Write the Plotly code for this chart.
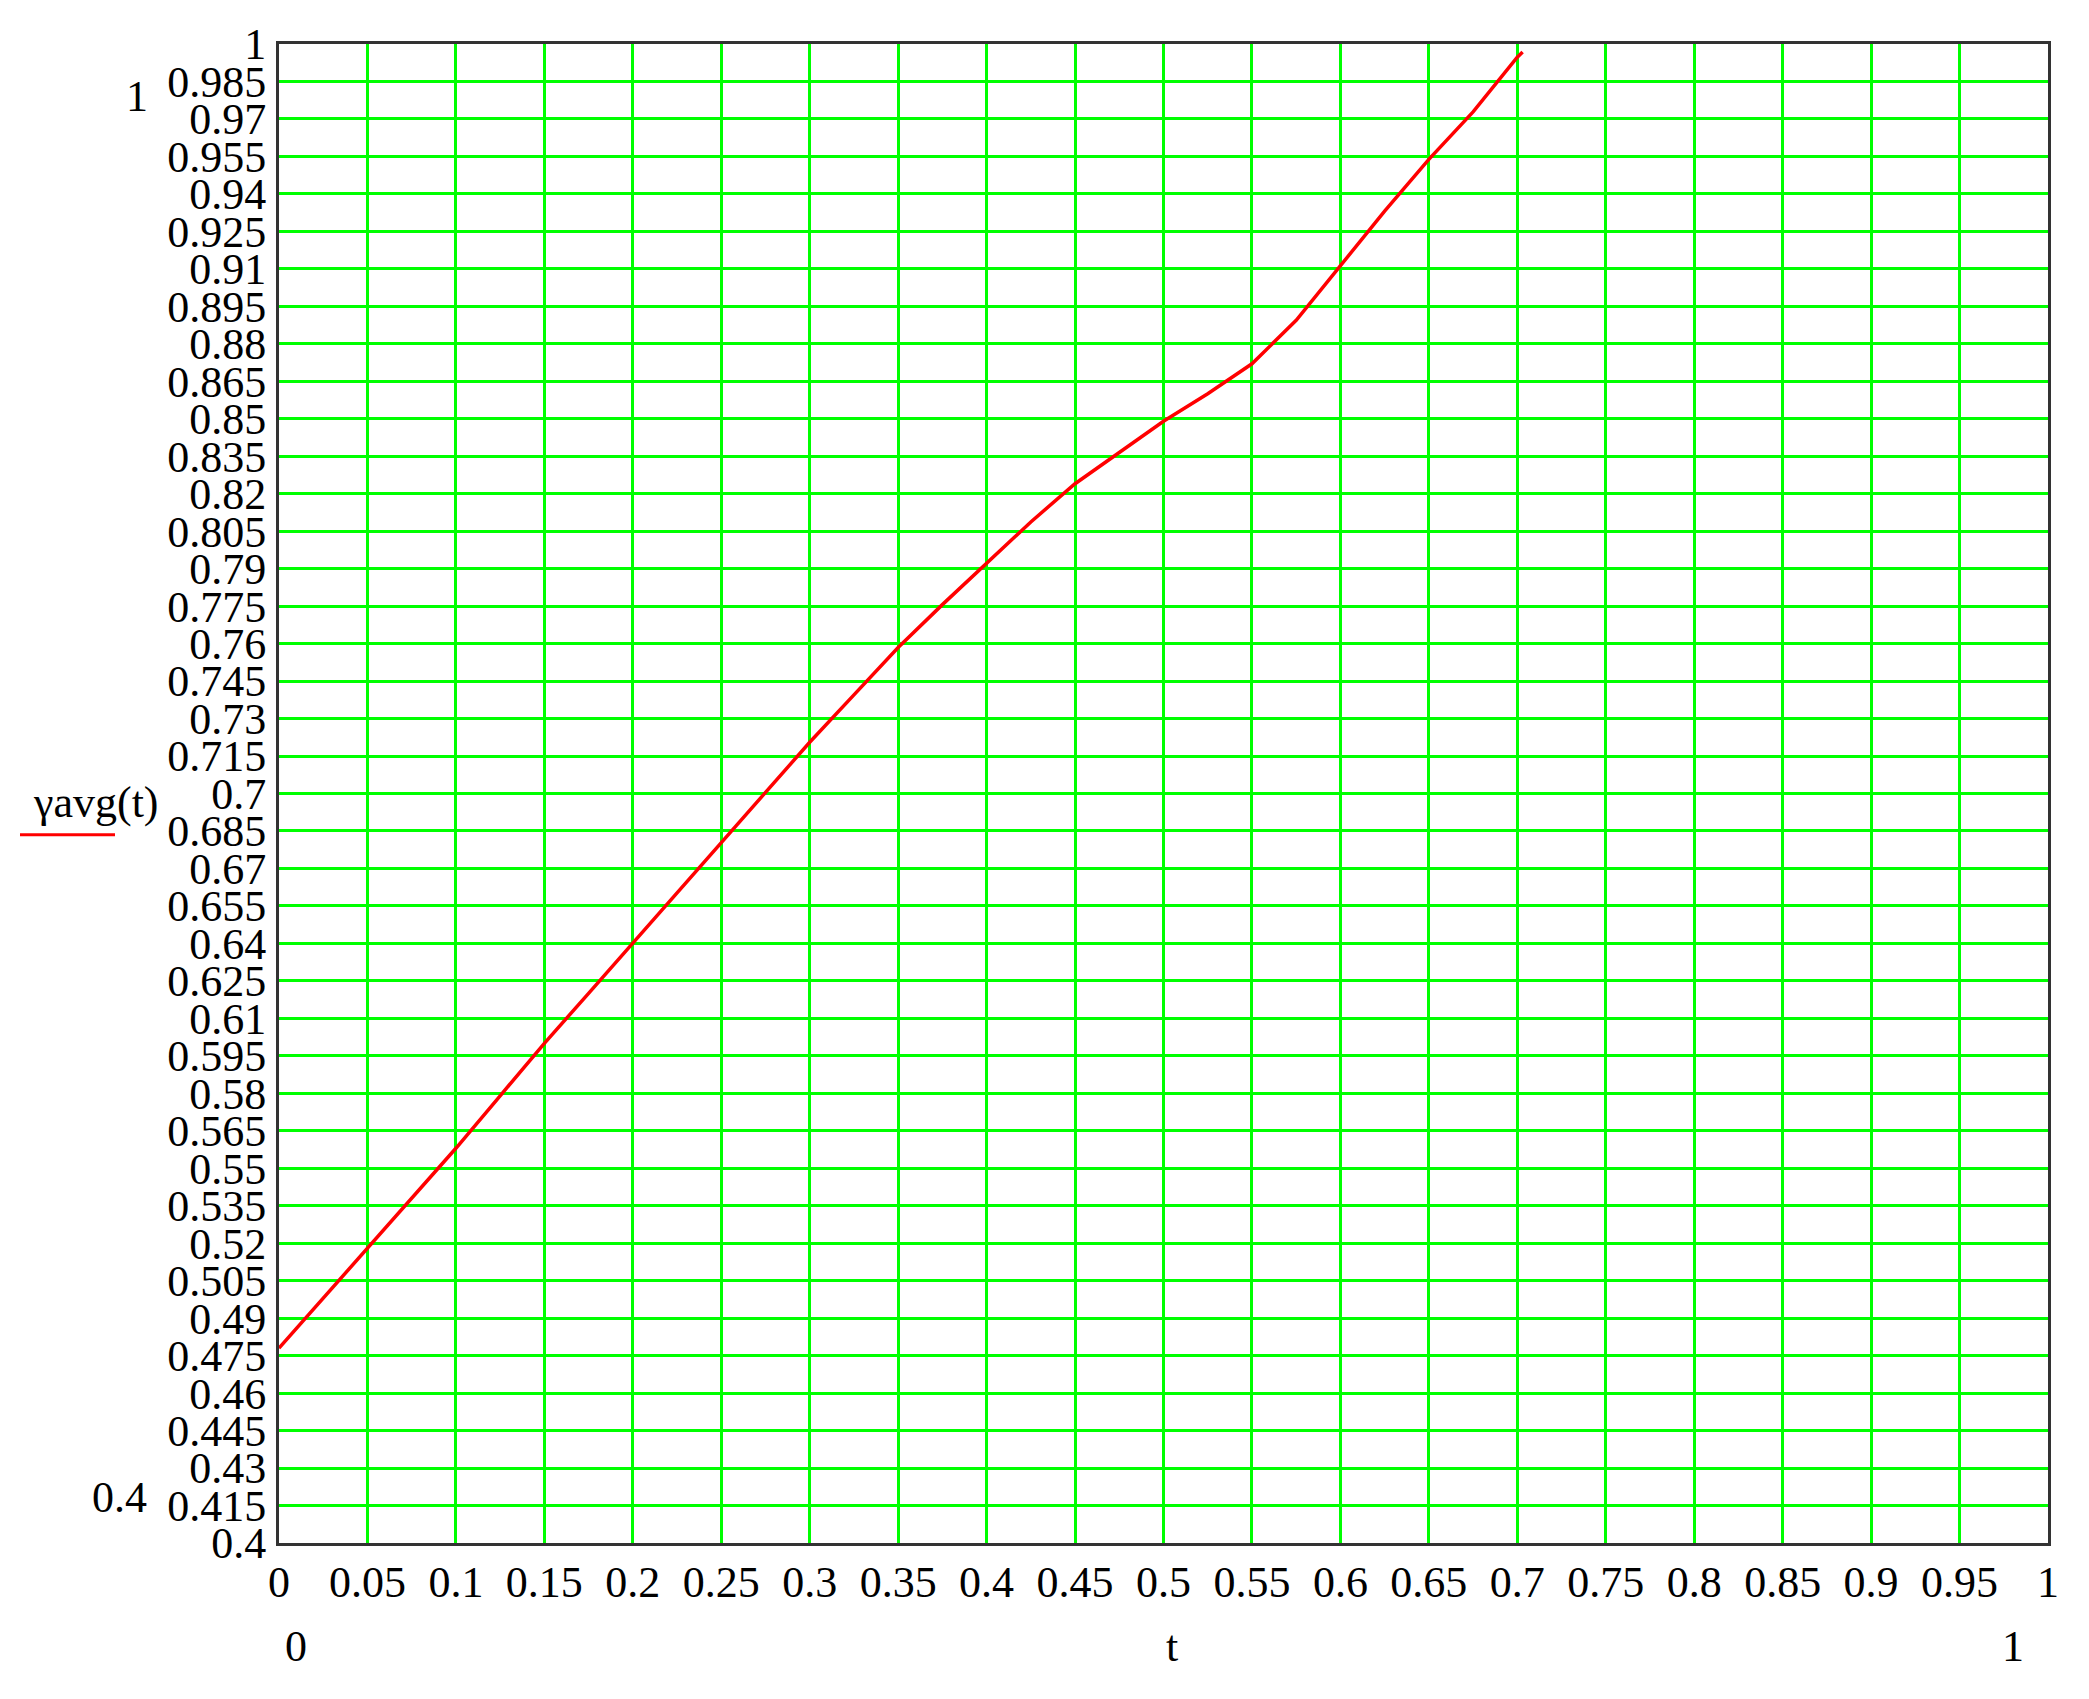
import plotly.graph_objects as go

# ---- data ----
t_values = [0, 0.025, 0.05, 0.075, 0.1, 0.125, 0.15, 0.175, 0.2, 0.225, 0.25,
            0.275, 0.3, 0.325, 0.35, 0.375, 0.4, 0.425, 0.45, 0.475, 0.5,
            0.525, 0.55, 0.575, 0.6, 0.625, 0.65, 0.675, 0.7, 0.703]
gamma_avg = [0.478, 0.498, 0.518, 0.538, 0.558, 0.579, 0.600, 0.620, 0.640, 0.660, 0.680,
             0.700, 0.7205, 0.7395, 0.7584, 0.7756, 0.7922, 0.8087, 0.824, 0.8366, 0.849,
             0.860, 0.872, 0.8894, 0.9111, 0.9331, 0.9538, 0.9728, 0.9947, 0.9968]

x_ticks = [0, 0.05, 0.1, 0.15, 0.2, 0.25, 0.3, 0.35, 0.4, 0.45, 0.5,
           0.55, 0.6, 0.65, 0.7, 0.75, 0.8, 0.85, 0.9, 0.95, 1]
x_tick_labels = ["0", "0.05", "0.1", "0.15", "0.2", "0.25", "0.3", "0.35", "0.4", "0.45", "0.5",
                 "0.55", "0.6", "0.65", "0.7", "0.75", "0.8", "0.85", "0.9", "0.95", "1"]
y_ticks = [0.4, 0.415, 0.43, 0.445, 0.46, 0.475, 0.49, 0.505, 0.52, 0.535, 0.55,
           0.565, 0.58, 0.595, 0.61, 0.625, 0.64, 0.655, 0.67, 0.685, 0.7,
           0.715, 0.73, 0.745, 0.76, 0.775, 0.79, 0.805, 0.82, 0.835, 0.85,
           0.865, 0.88, 0.895, 0.91, 0.925, 0.94, 0.955, 0.97, 0.985, 1]
y_tick_labels = ["0.4", "0.415", "0.43", "0.445", "0.46", "0.475", "0.49", "0.505", "0.52", "0.535", "0.55",
                 "0.565", "0.58", "0.595", "0.61", "0.625", "0.64", "0.655", "0.67", "0.685", "0.7",
                 "0.715", "0.73", "0.745", "0.76", "0.775", "0.79", "0.805", "0.82", "0.835", "0.85",
                 "0.865", "0.88", "0.895", "0.91", "0.925", "0.94", "0.955", "0.97", "0.985", "1"]

x_range = [0, 1]
y_range = [0.4, 1]
y_label = "γavg(t)"
x_label = "t"
x_limit_labels = ["0", "1"]
y_limit_labels = ["0.4", "1"]

# ---- layout geometry (page pixels; the page body adds an 8px offset) ----
OFF = 8
PW, PH = 2089, 1699
W, H = PW - 2 * OFF, PH - 2 * OFF
L, R, T, B = 279, 2048, 32, 1543          # plot area in page pixels
FONT = "Liberation Serif"
FS = 44


def px_x(p):
    return (p - L) / (R - L)


def px_y(p):
    return (B - p) / (B - T)


fig = go.Figure()
fig.add_trace(go.Scatter(x=t_values, y=gamma_avg, mode="lines",
                         line=dict(color="#ff0000", width=3.5), showlegend=False))

axis_common = dict(showgrid=True, gridcolor="#00ff00", gridwidth=3,
                   showline=True, linecolor="#333333", linewidth=3, mirror=True,
                   zeroline=False, ticks="", tickfont=dict(family=FONT, size=FS, color="black"),
                   fixedrange=True)

fig.update_xaxes(range=x_range, tickmode="array", tickvals=x_ticks, ticktext=x_tick_labels,
                 ticklabelstandoff=-2, **axis_common)
fig.update_yaxes(range=y_range, tickmode="array", tickvals=y_ticks, ticktext=y_tick_labels,
                 ticklabelstandoff=1, **axis_common)

ann_font = dict(family=FONT, size=FS, color="black")
annotations = [
    dict(text=y_limit_labels[1], x=px_x(137), y=px_y(85)),
    dict(text=y_limit_labels[0], x=px_x(119), y=px_y(1497)),
    dict(text=x_limit_labels[0], x=px_x(296), y=px_y(1647)),
    dict(text=x_limit_labels[1], x=px_x(2013), y=px_y(1647)),
    dict(text=x_label, x=px_x(1172), y=px_y(1647)),
    dict(text=y_label, x=px_x(96), y=px_y(797)),
]
for a in annotations:
    fig.add_annotation(xref="paper", yref="paper", showarrow=False,
                       xanchor="center", yanchor="middle", font=ann_font, **a)

# legend swatch under the y label
fig.add_shape(type="line", xref="paper", yref="paper",
              x0=px_x(20), x1=px_x(115), y0=px_y(829), y1=px_y(829),
              line=dict(color="#ff0000", width=3))

fig.update_layout(width=W, height=H, autosize=False,
                  margin=dict(l=L - OFF, r=(W + OFF) - R, t=T - OFF, b=(H + OFF) - B, pad=0),
                  paper_bgcolor="white", plot_bgcolor="white",
                  font=dict(family=FONT, size=FS, color="black"))

fig.write_html("out.html")
